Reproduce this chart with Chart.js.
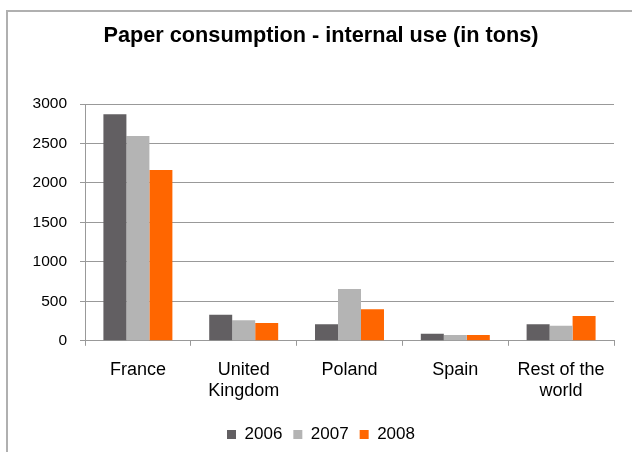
<!DOCTYPE html>
<html>
<head>
<meta charset="utf-8">
<script src="https://cdn.jsdelivr.net/npm/chart.js@4"></script>
<style>
  body { margin: 0; background: #fff; }
  #wrap { position: relative; width: 632px; height: 452px; overflow: hidden; }
  #frame { position: absolute; left: 6px; top: 10px; width: 700px; height: 500px; border: 2px solid #b0b0b0; }
  canvas { position: absolute; left: 0; top: 0; }
</style>
</head>
<body>
<div id="wrap">
  <div id="frame"></div>
  <canvas id="myChart" width="632" height="452"></canvas>
</div>
<script>
const paises = ['France', ['United', 'Kingdom'], 'Poland', 'Spain', ['Rest of the', 'world']]
const anios = ['2006', '2007', '2008']
const v2006 = [2870, 330, 210, 90, 210]
const v2007 = [2595, 260, 655, 75, 190]
const v2008 = [2165, 225, 400, 75, 315]
const colores = ['#625f62', '#b4b4b4', '#ff6600']
const ticksY = [0, 500, 1000, 1500, 2000, 2500, 3000]

function grafico_barras(){
    const ctx = document.getElementById('myChart')
    Chart.defaults.font.family = '"Liberation Sans", Arial, sans-serif'
    Chart.defaults.color = '#000'

    new Chart(ctx, {
        type: 'bar',
        data: {
            labels: paises,
            datasets: [v2006, v2007, v2008].map((d, i) => ({
                label: anios[i],
                data: d,
                backgroundColor: colores[i],
                borderWidth: 0,
                categoryPercentage: 0.652,
                barPercentage: 1
            }))
        },
        options: {
            responsive: false,
            animation: false,
            // padding izquierdo para centrar titulo y leyenda como en el original
            layout: { padding: { left: 28, right: 18, top: 0, bottom: -1 } },
            plugins: {
                title: {
                    display: true,
                    text: 'Paper consumption - internal use (in tons)',
                    font: { size: 21.7, weight: 'bold' },
                    color: '#000',
                    padding: { top: 23, bottom: 55 }
                },
                legend: {
                    position: 'bottom',
                    labels: { boxWidth: 9, boxHeight: 9, padding: 11, font: { size: 17 } }
                },
                tooltip: { enabled: false }
            },
            scales: {
                x: {
                    grid: { offset: true, drawOnChartArea: false, color: '#999', tickLength: 5 },
                    border: { color: '#999' },
                    ticks: { font: { size: 18, lineHeight: 1.2 }, padding: 13, maxRotation: 0, autoSkip: false }
                },
                y: {
                    min: 0, max: 3000,
                    afterFit: s => { s.width = 57 },
                    afterBuildTicks: s => { s.ticks = ticksY.map(v => ({ value: v })) },
                    grid: { color: '#999', tickLength: 5 },
                    border: { color: '#999' },
                    ticks: { font: { size: 15.5 }, padding: 13, callback: v => String(v) }
                }
            }
        }
    })
}

grafico_barras()
</script>
</body>
</html>
